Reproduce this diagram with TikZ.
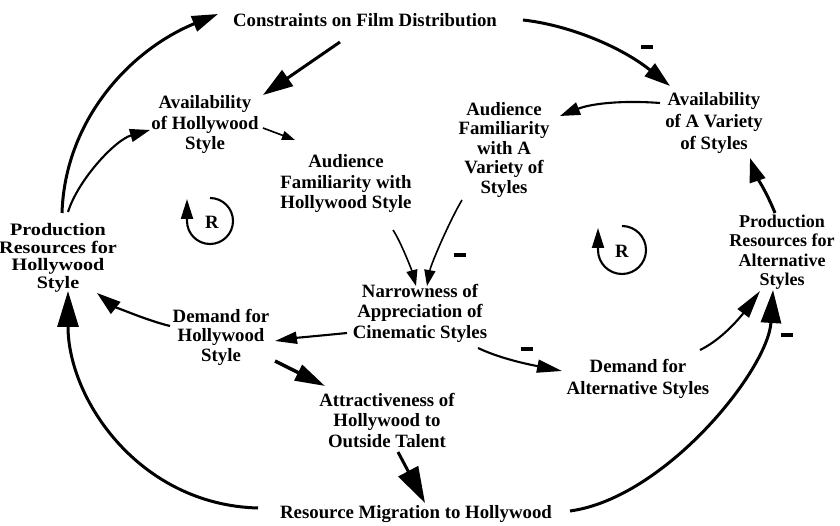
\documentclass[tikz,border=0pt]{standalone}
\usepackage{fontspec}
\setmainfont{Liberation Serif}
\newfontfamily\widefont{Liberation Serif}[FakeStretch=1.15]
\usetikzlibrary{arrows.meta}
\begin{document}
\begin{tikzpicture}[x=1pt,y=-1pt,
  lbl/.style={align=center,inner sep=0pt,font=\bfseries\fontsize{18.8}{20.5}\selectfont},
  fine/.style={line width=1.6pt},
  link/.style={line width=2.1pt},
  heavy/.style={line width=3pt},
  hd/.style 2 args={-{Triangle[length=#1pt,width=#2pt]}},
  minus/.style={inner sep=0pt,font=\bfseries}
]
\fill[white] (0,0) rectangle (840,526);
\useasboundingbox (0,0) rectangle (840,526);

% variables
\node[lbl] (cons) at (365,20) {Constraints on Film Distribution};
\node[lbl] (avH) at (205,125) {Availability\\of Hollywood\\Style};
\node[lbl] (afH) at (346,184) {Audience\\Familiarity with\\Hollywood Style};
\node[lbl,font=\bfseries\fontsize{18.8}{19.5}\selectfont] (afV) at (504,150) {Audience\\Familiarity\\with A\\Variety of\\Styles};
\node[lbl,font=\bfseries\fontsize{18.8}{22}\selectfont] (avV) at (714,123) {Availability\\of A Variety\\of Styles};
\node[lbl,font=\widefont\bfseries\fontsize{17.5}{17.5}\selectfont] (prH) at (58,258) {Production\\Resources for\\Hollywood\\Style};
\node[lbl,font=\bfseries\fontsize{18}{19.5}\selectfont] (prA) at (782,252) {Production\\Resources for\\Alternative\\Styles};
\node[lbl] (nar) at (420,313) {Narrowness of\\Appreciation of\\Cinematic Styles};
\node[lbl,font=\bfseries\fontsize{18.8}{19.5}\selectfont] (dmH) at (221,337) {Demand for\\Hollywood\\Style};
\node[lbl,font=\bfseries\fontsize{18.8}{22}\selectfont] (dmA) at (638,379) {Demand for\\Alternative Styles};
\node[lbl] (att) at (387,420) {Attractiveness of\\Hollywood to\\Outside Talent};
\node[lbl] (mig) at (416,514) {Resource Migration to Hollywood};

% loop markers
\node[lbl] (rL) at (212,222) {R};
\node[lbl] (rR) at (622,251) {R};
\draw[link,hd={20}{12}] ([shift={(-2,-24)}]rL.center) arc[start angle=-90,end angle=180,radius=23] -- ++(0,-22);
\draw[link,hd={20}{12}] ([shift={(0,-25)}]rR.center) arc[start angle=-90,end angle=180,radius=24] -- ++(0,-22);

% causal links
\draw[heavy,hd={26}{16}] ([shift={(4,-45)}]prH.center) .. controls +(3,-93) and +(-88,36) .. ([shift={(-147,-6)}]cons.center);
\draw[link,hd={20}{13}] ([shift={(10,-46)}]prH.center) .. controls +(10,-32) and +(-35,10) .. ([shift={(-55,5)}]avH.center);
\draw[heavy,hd={30}{19}] ([shift={(-25,22)}]cons.center) -- ([shift={(58,-30)}]avH.center);
\draw[fine,hd={13}{9}] ([shift={(58,3)}]avH.center) -- ([shift={(-51,-44)}]afH.center);
\draw[heavy,hd={26}{16}] ([shift={(158,0)}]cons.center) .. controls +(45,5) and +(-50,-40) .. ([shift={(-44,-37)}]avV.center);
\draw[link,hd={20}{13}] ([shift={(-54,-20)}]avV.center) .. controls +(-40,-3) and +(30,-12) .. ([shift={(56,-34)}]afV.center);
\draw[heavy,hd={24}{16}] ([shift={(-7,-39)}]prA.center) .. controls +(-8,-20) and +(5,15) .. ([shift={(36,35)}]avV.center);
\draw[fine,hd={16}{11}] ([shift={(47,46)}]afH.center) .. controls +(8,12) and +(-4,-15) .. ([shift={(-4,-27)}]nar.center);
\draw[fine,hd={16}{11}] ([shift={(-42,50)}]afV.center) .. controls +(-12,20) and +(4,-22) .. ([shift={(7,-27)}]nar.center);
\draw[link,hd={22}{12}] ([shift={(-73,20)}]nar.center) .. controls +(-20,2) and +(20,-3) .. ([shift={(54,4)}]dmH.center);
\draw[line width=2.2pt,hd={24}{15}] ([shift={(-51,-11)}]dmH.center) .. controls +(-25,-6) and +(15,12) .. ([shift={(39,35)}]prH.center);
\draw[line width=3.5pt,hd={30}{17}] ([shift={(54,24)}]dmH.center) -- ([shift={(-62,-34)}]att.center);
\draw[link,hd={25}{13}] ([shift={(58,35)}]nar.center) .. controls +(25,12) and +(-25,-5) .. ([shift={(-76,-8)}]dmA.center);
\draw[link,hd={28}{14}] ([shift={(62,-29)}]dmA.center) .. controls +(25,-12) and +(-15,20) .. ([shift={(-22,39)}]prA.center);
\draw[heavy,hd={36}{22}] ([shift={(11,32)}]att.center) -- ([shift={(9,-11)}]mig.center);
\draw[heavy,hd={36}{21}] ([shift={(-158,-6)}]mig.center) .. controls +(-118,-3) and +(0,109) .. ([shift={(10,33)}]prH.center);
\draw[heavy,hd={33}{20}] ([shift={(154,-3)}]mig.center) .. controls +(95,-13) and +(-5,80) .. ([shift={(-9,38)}]prA.center);

% polarity marks
\node[minus] (n1) at (647,47) {\rule{12pt}{4.5pt}};
\node[minus] (n2) at (460,255) {\rule{12pt}{4.5pt}};
\node[minus] (n3) at (527,349) {\rule{12pt}{4.5pt}};
\node[minus] (n4) at (787,335) {\rule{12pt}{4.5pt}};
\end{tikzpicture}
\end{document}
